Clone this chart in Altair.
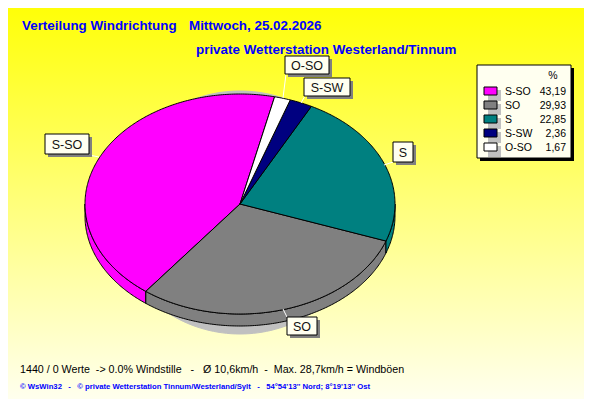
import math
import altair as alt

names = ["S-SO", "SO", "S", "S-SW", "O-SO"]
percent = [43.19, 29.93, 22.85, 2.36, 1.67]
percent_labels = ["43,19", "29,93", "22,85", "2,36", "1,67"]
colors = ["#FF00FF", "#808080", "#008080", "#000080", "#FFFFFF"]

W, H = 576, 391
OFF = 8
CX, CY, RX, RY, DEPTH = 240, 204, 155, 110, 12
START = 12.9
FONT = "Liberation Sans"
IVORY = "#FFFFF0"


def pt(t, dy=0.0, cx=CX, cy=CY, rx=RX, ry=RY):
    r = math.radians(t)
    return [cx + rx * math.sin(r), cy - ry * math.cos(r) + dy]


def arc(a, b, dy=0.0):
    n = max(2, int(abs(b - a) * 1.5))
    return [pt(a + (b - a) * i / n, dy) for i in range(n + 1)]


def feature(name, ring):
    return {"type": "Feature", "properties": {"name": name},
            "geometry": {"type": "Polygon", "coordinates": [ring + [ring[0]]]}}


tops, walls = [], []
t = START
for name, p in zip(names, percent):
    a, b = t - p * 3.6, t
    tops.append(feature(name, [[CX, CY]] + arc(a, b)))
    for lo, hi in ((a, b), (a + 360, b + 360), (a - 360, b - 360)):
        l, h = max(lo, 90), min(hi, 270)
        if l < h:
            walls.append(feature(name, arc(l, h) + arc(h, l, DEPTH)))
    t = a

shadow = [pt(i, 0, CX, 212.5, 128, 121.5) for i in range(0, 360, 2)]
projection = alt.Projection(type="identity", scale=1, translate=[-OFF, -OFF])
color = alt.Color("properties.name:N", scale=alt.Scale(domain=names, range=colors), legend=None)


def geo(features, **kw):
    return (alt.Chart(alt.InlineData(values=features, format=alt.DataFormat(type="json")))
            .mark_geoshape(**kw).project(**projection.to_dict()))


ONE = alt.InlineData(values=[{"a": 1}])


def box(x0, y0, x1, y1, fill, **kw):
    return alt.Chart(ONE).mark_rect(fill=fill, **kw).encode(
        x=alt.value(x0 - OFF), x2=alt.value(x1 - OFF), y=alt.value(y0 - OFF), y2=alt.value(y1 - OFF))


def text(s, x, y, size=11, col="#000000", align="left", weight="normal", font=FONT):
    return alt.Chart(ONE).mark_text(fontSize=size, color=col, align=align, fontWeight=weight,
                                    font=font, baseline="alphabetic").encode(
        x=alt.value(x - OFF), y=alt.value(y - OFF), text=alt.value(s))


def rule(x0, y0, x1, y1):
    return alt.Chart(ONE).mark_rule(color="#FFFFFF", strokeWidth=1).encode(
        x=alt.value(x0 - OFF), x2=alt.value(x1 - OFF), y=alt.value(y0 - OFF), y2=alt.value(y1 - OFF))


background = box(OFF, OFF, W + OFF, H + OFF, alt.LinearGradient(
    gradient="linear", x1=0, x2=0, y1=0, y2=1,
    stops=[alt.GradientStop(color="#FFFF08", offset=0), alt.GradientStop(color="#FFFFEE", offset=1)]))

layers = [background]
layers.append(geo([feature("shadow", shadow)], fill="#C0C0C0", stroke="#C0C0C0", fillOpacity=1))
layers.append(geo(walls, stroke="#000000", strokeWidth=1).encode(fill=color))
layers.append(geo(tops, stroke="#000000", strokeWidth=1).encode(fill=color))

NB = "\u00a0"
layers += [
    text("Verteilung Windrichtung", 22, 30, 13.4, "#0000FF", weight="bold"),
    text("Mittwoch, 25.02.2026", 189, 30, 13.4, "#0000FF", weight="bold"),
    text("private Wetterstation Westerland/Tinnum", 196, 54, 13.4, "#0000FF", weight="bold"),
    text(f"1440 / 0 Werte {NB}-> 0.0% Windstille {NB} - {NB} Ø 10,6km/h {NB}- {NB}Max. 28,7km/h = Windböen",
         20, 373, 10.7, "#000000"),
    text(f"© WsWin32 {NB} - {NB} © private Wetterstation Tinnum/Westerland/Sylt {NB} - {NB} 54°54'13'' Nord; 8°19'13'' Ost",
         20, 389, 7.7, "#0000FF", weight="bold"),
]

# callouts: (text, box left, top, right, bottom, leader x0, y0, x1, y1)
callouts = [
    ("O-SO", 285, 56, 329, 74, 286, 74, 283, 98),
    ("S-SW", 304, 78, 350, 96, 305, 96, 301, 103),
    ("S", 393, 142, 413, 162, 393, 162, 384, 165),
    ("S-SO", 45, 134, 89, 154, 89, 155, 99, 157),
    ("SO", 287, 317, 317, 335, 283, 309, 287, 317),
]
for s, x0, y0, x1, y1, a, b, c, d in callouts:
    layers.append(rule(a, b, c, d))
    layers.append(box(x0 + 3, y0 + 3, x1 + 3, y1 + 3, "#808080"))
    layers.append(box(x0, y0, x1, y1, IVORY, stroke="#000000", strokeWidth=1))
    layers.append(text(s, (x0 + x1) / 2, (y0 + y1) / 2 + 4.5, 12.5, "#111111", align="center"))

# legend
layers.append(box(480, 68, 574, 161, "#000000"))
layers.append(box(477, 65, 571, 158, IVORY, stroke="#000000", strokeWidth=1))
layers.append(text("%", 553, 79, 10.5, align="center"))
row_y = [91, 105, 119, 133, 147]
for name, lab, col, y in zip(names, percent_labels, colors, row_y):
    layers.append(box(488, y - 1, 501, y + 10, "#C0C0C0"))
    layers.append(box(484, y - 4, 497, y + 4, col, stroke="#000000", strokeWidth=1))
    layers.append(text(name, 505, y + 4, 10.5))
    layers.append(text(lab, 566, y + 4, 10.5, align="right"))

chart = alt.layer(*layers).properties(
    width=W, height=H, padding=0, autosize=alt.AutoSizeParams(type="none"),
).configure_view(stroke=None)

chart.save("out.html", embed_options={"renderer": "svg", "actions": False})
